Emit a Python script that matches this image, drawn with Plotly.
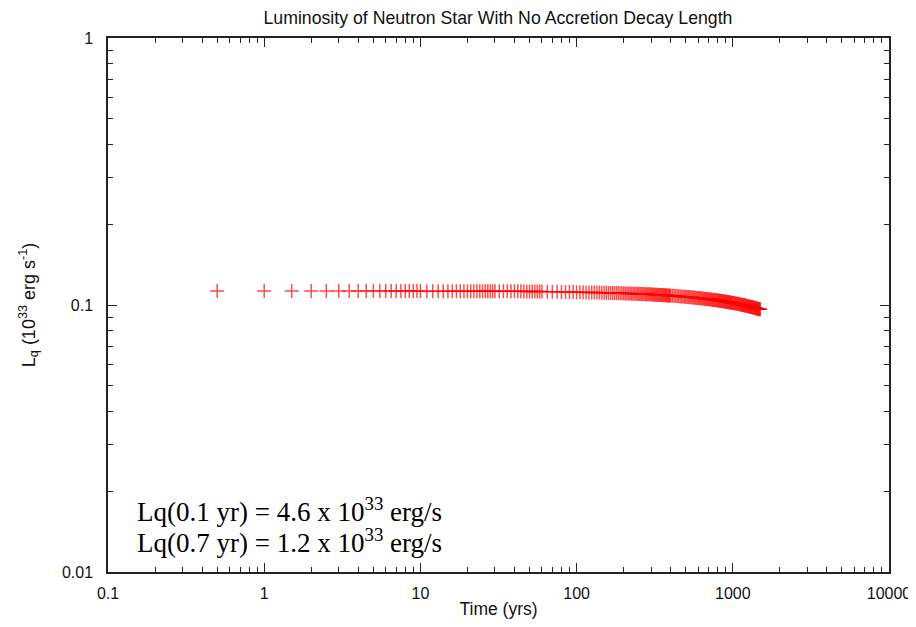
import plotly.graph_objects as go

title_text = "Luminosity of Neutron Star With No Accretion Decay Length"

time_yr = [
    0.5, 1, 1.5, 2, 2.5, 3, 3.5, 4, 4.5, 5, 5.5, 6, 6.5, 7, 7.5, 8, 8.5, 9, 9.5, 10,
    11, 12, 13, 14, 15, 16, 17, 18, 19, 20, 21, 22, 23, 24, 25, 26, 27, 28, 29, 30,
    32, 34, 36, 38, 40, 42, 44, 46, 48, 50, 52, 54, 56, 58, 60,
    65, 70, 75, 80, 85, 90, 95, 100, 105, 110, 115, 120, 125, 130, 135, 140, 145, 150,
    155, 160, 165, 170, 175, 180, 185, 190, 195, 200, 205, 210, 215, 220, 225, 230,
    235, 240, 245, 250, 255, 260, 265, 270, 275, 280, 285, 290, 295, 300, 305, 310,
    315, 320, 325, 330, 335, 340, 345, 350, 355, 360, 365, 370, 375, 380, 385, 390,
    395, 400,
    410, 420, 430, 440, 450, 460, 470, 480, 490, 500, 510, 520, 530, 540, 550, 560,
    570, 580, 590, 600, 610, 620, 630, 640, 650, 660, 670, 680, 690, 700, 710, 720,
    730, 740, 750, 760, 770, 780, 790, 800, 810, 820, 830, 840, 850, 860, 870, 880,
    890, 900, 910, 920, 930, 940, 950, 960, 970, 980, 990, 1000,
    1012.5, 1025, 1037.5, 1050, 1062.5, 1075, 1087.5, 1100, 1112.5, 1125, 1137.5, 1150,
    1162.5, 1175, 1187.5, 1200, 1212.5, 1225, 1237.5, 1250, 1262.5, 1275, 1287.5, 1300,
    1312.5, 1325, 1337.5, 1350, 1362.5, 1375, 1387.5, 1400, 1412.5, 1425, 1437.5, 1450,
    1462.5, 1475, 1487.5, 1500,
]

lq = [
    0.1128, 0.1128, 0.1128, 0.1128, 0.1128, 0.1128, 0.1128, 0.1128, 0.1128, 0.1128,
    0.1128, 0.1128, 0.1128, 0.1128, 0.1128, 0.1128, 0.1128, 0.1128, 0.1128, 0.1128,
    0.1127, 0.1127, 0.1127, 0.1127, 0.1127, 0.1127, 0.1127, 0.1127, 0.1127, 0.1127,
    0.1126, 0.1126, 0.1126, 0.1126, 0.1126, 0.1126, 0.1126, 0.1126, 0.1126, 0.1126,
    0.1125, 0.1125, 0.1125, 0.1125, 0.1125, 0.1125, 0.1125, 0.1123,
    0.1123, 0.1123, 0.1123, 0.1123, 0.1123, 0.1123, 0.1123,
    0.1121, 0.1120, 0.1120, 0.1119, 0.1119, 0.1118, 0.1118, 0.1117, 0.1116, 0.1116,
    0.1115, 0.1115, 0.1114, 0.1114, 0.1113, 0.1113, 0.1112, 0.1112,
    0.1111, 0.1110, 0.1110, 0.1109, 0.1109, 0.1108, 0.1108, 0.1107, 0.1107, 0.1106,
    0.1105, 0.1105, 0.1104, 0.1104, 0.1103, 0.1103, 0.1102, 0.1102, 0.1101, 0.1100,
    0.1100, 0.1099, 0.1099, 0.1098, 0.1098, 0.1097, 0.1097, 0.1096, 0.1096, 0.1095,
    0.1094, 0.1094, 0.1093, 0.1093, 0.1092, 0.1092, 0.1091, 0.1091, 0.1090, 0.1090,
    0.1089, 0.1088, 0.1088, 0.1087, 0.1087, 0.1086, 0.1086, 0.1085, 0.1085, 0.1084,
    0.1083, 0.1082, 0.1081, 0.1080, 0.1078, 0.1077, 0.1076, 0.1075, 0.1074, 0.1073,
    0.1072, 0.1071, 0.1070, 0.1069, 0.1067, 0.1066, 0.1065, 0.1064, 0.1063, 0.1062,
    0.1061, 0.1060, 0.1059, 0.1058, 0.1056, 0.1055, 0.1054, 0.1053, 0.1052, 0.1051,
    0.1050, 0.1049, 0.1048, 0.1047, 0.1045, 0.1044, 0.1043, 0.1042, 0.1041, 0.1040,
    0.1039, 0.1038, 0.1037, 0.1036, 0.1034, 0.1033, 0.1032, 0.1031, 0.1030, 0.1029,
    0.1028, 0.1027, 0.1026, 0.1025, 0.1023, 0.1022, 0.1021, 0.1020, 0.1019, 0.1018,
    0.1017, 0.1015, 0.1014, 0.1012, 0.1011, 0.1010, 0.1008, 0.1007, 0.1005, 0.1004,
    0.1002, 0.1001, 0.0999, 0.0998, 0.0997, 0.0996, 0.0994, 0.0993, 0.0991, 0.0990,
    0.0988, 0.0987, 0.0986, 0.0985, 0.0983, 0.0982, 0.0980, 0.0979, 0.0977, 0.0976,
    0.0975, 0.0974, 0.0972, 0.0971, 0.0969, 0.0968, 0.0966, 0.0965, 0.0964, 0.0963,
]

x_tick_vals = [0.1, 1, 10, 100, 1000, 10000]
x_tick_text = ["0.1", "1", "10", "100", "1000", "10000"]
y_tick_vals = [0.01, 0.1, 1]
y_tick_text = ["0.01", "0.1", "1"]

x_minor = [m * 10 ** e for e in range(-1, 4) for m in range(2, 10)]
y_minor = [m * 10 ** e for e in range(-2, 0) for m in range(2, 10)]

notes = [
    "Lq(0.1 yr) = 4.6 x 10<sup>33</sup> erg/s",
    "Lq(0.7 yr) = 1.2 x 10<sup>33</sup> erg/s",
]

fig = go.Figure()
fig.add_trace(go.Scatter(
    x=time_yr, y=lq, mode="markers",
    marker=dict(symbol="cross-thin", size=10, color="rgba(255,0,0,0.7)",
                line=dict(color="rgba(255,0,0,0.7)", width=1.5)),
    showlegend=False, hoverinfo="x+y",
))

sans = "Liberation Sans, Arial, sans-serif"
axis_common = dict(
    showline=True, linecolor="#222", linewidth=1.5, mirror="allticks",
    ticks="inside", ticklen=9, tickwidth=1, tickcolor="#222",
    showgrid=False, zeroline=False, automargin=False,
    tickfont=dict(family=sans, size=16, color="#111"),
)

fig.update_xaxes(
    type="log", range=[-1, 4], tickmode="array", tickvals=x_tick_vals, ticktext=x_tick_text,
    minor=dict(tickmode="array", tickvals=x_minor, ticks="inside", ticklen=5,
               tickcolor="#222", tickwidth=1, showgrid=False),
    ticklabelstandoff=6,
    title=dict(text="Time (yrs)", font=dict(family=sans, size=17.5, color="#111"), standoff=10),
    **axis_common,
)
fig.update_yaxes(
    type="log", range=[-2, 0], tickmode="array", tickvals=y_tick_vals, ticktext=y_tick_text,
    minor=dict(tickmode="array", tickvals=y_minor, ticks="inside", ticklen=5,
               tickcolor="#222", tickwidth=1, showgrid=False),
    ticklabelstandoff=10,
    title=dict(text="L<sub>q</sub> (10<sup>33</sup> erg s<sup>-1</sup>)",
               font=dict(family=sans, size=18, color="#111"), standoff=22),
    **axis_common,
)

for i, t in enumerate(notes):
    fig.add_annotation(
        xref="paper", yref="paper", x=(135 - 108) / 781, y=[(572 - 510) / 534, (572 - 541) / 534][i],
        xanchor="left", yanchor="middle", showarrow=False, text=t,
        font=dict(family="Liberation Serif, Times New Roman, serif", size=27, color="#000"),
    )

fig.update_layout(
    width=916, height=611,
    margin=dict(l=100, r=35, t=30, b=47),
    paper_bgcolor="white", plot_bgcolor="white",
    title=dict(text=title_text, x=490 / 916, xanchor="center", y=1 - 10 / 611, yanchor="middle",
               font=dict(family=sans, size=17.7, color="#111")),
)

fig.write_html("out.html")
